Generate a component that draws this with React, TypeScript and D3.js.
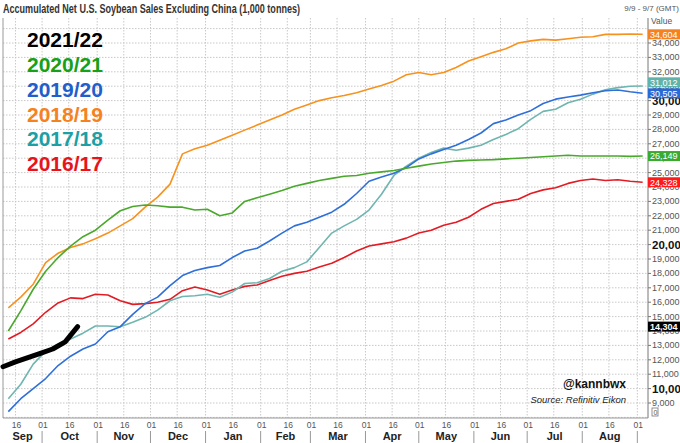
import React from "react";
import * as d3 from "d3";

const W = 680;
const H = 443;

// Weekly accumulated net sales (1,000 tonnes) — historical seasons start week of Sep 12
const s2018_19 = [15600, 16350, 17250, 18750, 19400, 19800, 20050, 20400, 20800, 21300, 21800, 22600, 23300, 24200, 26300, 26650, 26900, 27250, 27600, 27950, 28300, 28650, 29000, 29400, 29700, 30000, 30200, 30350, 30550, 30800, 31050, 31350, 31800, 31950, 31800, 31950, 32300, 32750, 33050, 33350, 33600, 34000, 34150, 34250, 34200, 34300, 34400, 34430, 34600, 34600, 34620, 34604];
const s2020_21 = [14000, 15400, 16900, 18150, 19100, 19900, 20550, 21000, 21700, 22350, 22650, 22750, 22700, 22600, 22600, 22400, 22450, 22000, 22200, 23000, 23250, 23500, 23750, 24050, 24250, 24450, 24600, 24750, 24800, 24950, 25050, 25150, 25300, 25450, 25600, 25700, 25800, 25850, 25870, 25900, 25950, 26000, 26050, 26100, 26150, 26200, 26150, 26150, 26150, 26150, 26130, 26149];
const s2019_20 = [8400, 9300, 10000, 10700, 11600, 12250, 12750, 13100, 13950, 14300, 15150, 15900, 16350, 17150, 17850, 18200, 18400, 18550, 19100, 19550, 19750, 20250, 20800, 21300, 21550, 21900, 22250, 22800, 23550, 24400, 24700, 24950, 25350, 25950, 26300, 26600, 26900, 27300, 27750, 28400, 28650, 29000, 29300, 29800, 30100, 30250, 30380, 30550, 30680, 30740, 30610, 30505];
const s2017_18 = [9300, 10300, 11700, 12600, 13100, 13450, 13850, 14350, 14350, 14300, 14600, 14950, 15450, 16100, 16400, 16450, 16550, 16350, 16700, 17300, 17350, 17650, 18150, 18400, 18800, 19800, 20800, 21300, 21750, 22400, 23500, 24800, 25450, 26000, 26400, 26700, 26550, 26700, 26900, 27300, 27650, 28050, 28700, 29250, 29400, 29850, 30100, 30450, 30750, 30900, 31000, 31012];
const s2016_17 = [13450, 13900, 14500, 15300, 15950, 16300, 16250, 16550, 16500, 16100, 15850, 15900, 16000, 16200, 16800, 17050, 16850, 16550, 16850, 17100, 17200, 17500, 17800, 18000, 18150, 18450, 18700, 19100, 19550, 19900, 20050, 20200, 20450, 20800, 21000, 21350, 21550, 21900, 22450, 22850, 23000, 23150, 23550, 23800, 23950, 24250, 24450, 24550, 24450, 24500, 24400, 24328];
// Current season starts week of Sep 9
const s2021_22 = [11520, 11850, 12150, 12450, 12750, 13250, 14304];

const seasons = ["2021/22", "2020/21", "2019/20", "2018/19", "2017/18", "2016/17"];
const legendColors = ["#000000", "#18a018", "#1f5fcc", "#f5821f", "#1ba0a6", "#e8141c"];
const lineColors = ["#000000", "#4aa82c", "#2f6fd8", "#f7921e", "#6fb5b0", "#e31b23"];
const badgeColors = ["#000000", "#3aaa2f", "#2a6ad6", "#f5821f", "#5fb3aa", "#ff1a1a"];
const yTicks = d3.range(9000, 35000, 1000);
const gridValues = d3.range(8000, 36000, 1000);

const seriesData = [s2021_22, s2020_21, s2019_20, s2018_19, s2017_18, s2016_17];

export default function App() {
  const domStart = new Date(2021, 8, 9);
  const domEnd = new Date(2022, 8, 7);
  const left = 3, right = 648, top = 18, bottom = 418;
  const x = d3.scaleTime().domain([domStart, domEnd]).range([left, right]);
  const y = d3.scaleLinear().domain([34000, 9000]).range([43, 403]);

  const histStart = new Date(2021, 8, 12);
  const curStart = new Date(2021, 8, 9);
  const dateFor = (si: number, i: number) =>
    d3.timeDay.offset(si === 0 ? curStart : histStart, 7 * i);

  const line = (si: number) =>
    d3.line<number>()
      .x((_, i) => x(dateFor(si, i)))
      .y((v) => y(v))(seriesData[si]) || "";

  const dayTicks = d3.timeDay.range(domStart, d3.timeDay.offset(domEnd, 1)).filter((d) => d.getDate() === 1 || d.getDate() === 16);
  const monthStarts = d3.timeMonth.range(domStart, d3.timeDay.offset(domEnd, 1));
  const months = d3.timeMonth.range(new Date(2021, 8, 1), new Date(2022, 8, 1));
  const fmtDay = d3.timeFormat("%d");
  const fmtMonth = d3.timeFormat("%b");
  const fmtNum = d3.format(",");

  // badges: resolve overlaps from lowest value upward
  const bh = 10;
  const order = d3.range(seriesData.length).sort((a, b) => {
    const va = seriesData[a][seriesData[a].length - 1];
    const vb = seriesData[b][seriesData[b].length - 1];
    return va - vb;
  });
  const badgeY: number[] = [];
  let prev = Infinity;
  order.forEach((si) => {
    const v = seriesData[si][seriesData[si].length - 1];
    let cy = y(v);
    if (cy > prev - bh - 1) cy = prev - bh - 1;
    badgeY[si] = cy;
    prev = cy;
  });

  const font = "'Liberation Sans', Arial, Helvetica, sans-serif";
  const legendY = [47, 71.5, 96.5, 121.5, 146, 171];

  return (
    <svg width={W} height={H} style={{ position: "absolute", left: 0, top: 0, background: "#fff" }} fontFamily={font}>
      <rect x={0} y={0} width={W} height={H} fill="#fff" />
      {/* title */}
      <text x={3} y={13} fontSize={12.5} fontWeight="bold" fill="#333" textLength={297} lengthAdjust="spacingAndGlyphs">
        Accumulated Net U.S. Soybean Sales Excluding China (1,000 tonnes)
      </text>
      <text x={679} y={11} fontSize={8} fill="#555" textAnchor="end">9/9 - 9/7 (GMT)</text>
      <text x={651} y={24} fontSize={8.5} fill="#555">Value</text>

      {/* grid */}
      <g>
        {gridValues.map((v) => (
          y(v) >= top && y(v) <= bottom ? (
            <line key={"h" + v} x1={left} x2={right} y1={y(v)} y2={y(v)} stroke="#c8c8c8" strokeWidth={1} strokeDasharray="1.5,1.5" />
          ) : null
        ))}
        {dayTicks.map((d) => (
          <line key={"v" + d.getTime()} x1={x(d)} x2={x(d)} y1={top} y2={bottom} stroke="#c8c8c8" strokeWidth={1} strokeDasharray="1.5,1.5" />
        ))}
      </g>

      {/* frame */}
      <line x1={left} x2={left} y1={top} y2={bottom} stroke="#999" />
      <line x1={left} x2={right} y1={bottom} y2={bottom} stroke="#999" />
      <line x1={right} x2={right} y1={top} y2={bottom} stroke="#777" />

      {/* series lines (draw historical first, current last) */}
      {[5, 4, 3, 2, 1].map((si) => (
        <path key={"l" + si} d={line(si)} fill="none" stroke={lineColors[si]} strokeWidth={1.6} strokeLinejoin="round" />
      ))}
      <path d={line(0)} fill="none" stroke={lineColors[0]} strokeWidth={5} strokeLinejoin="round" strokeLinecap="round" />

      {/* legend */}
      {seasons.map((s, i) => (
        <text key={s} x={27} y={legendY[i]} fontSize={21} fontWeight="bold" fill={legendColors[i]}>{s}</text>
      ))}

      {/* right axis */}
      {yTicks.map((v) => {
        const major = v % 10000 === 0;
        return (
          <g key={"t" + v}>
            <line x1={right} x2={right + 3} y1={y(v)} y2={y(v)} stroke="#777" />
            <text x={right + 4} y={y(v) + (major ? 4 : 3)} fontSize={major ? 11.5 : 9} fontWeight={major ? "bold" : "normal"} fill={major ? "#111" : "#555"}>
              {fmtNum(v)}
            </text>
          </g>
        );
      })}
      <rect x={652} y={408} width={6} height={8} fill="#fff" stroke="#777" strokeWidth={0.8} />
      <text x={653.5} y={415} fontSize={7} fill="#555">0</text>

      {/* value badges */}
      {seriesData.map((data, si) => {
        const v = data[data.length - 1];
        const cy = badgeY[si];
        return (
          <g key={"b" + si}>
            <rect x={right} y={cy - bh / 2} width={W - right} height={bh} fill={badgeColors[si]} />
            <text x={right + 2} y={cy + 3.3} fontSize={9} fontWeight={si === 0 ? "bold" : "normal"} fill="#fff">{fmtNum(v)}</text>
          </g>
        );
      })}

      {/* x axis */}
      {dayTicks.map((d) => (
        <text key={"xl" + d.getTime()} x={x(d) + 1} y={428} fontSize={8.5} fill="#555" textAnchor="middle">{fmtDay(d)}</text>
      ))}
      {monthStarts.map((d) => (
        <line key={"ms" + d.getTime()} x1={x(d)} x2={x(d)} y1={431} y2={443} stroke="#999" />
      ))}
      {months.map((m) => {
        const a = Math.max(x(m), left);
        const b = Math.min(x(d3.timeMonth.offset(m, 1)), right);
        return (
          <text key={"m" + m.getTime()} x={(a + b) / 2} y={440} fontSize={11} fontWeight="bold" fill="#222" textAnchor="middle">{fmtMonth(m)}</text>
        );
      })}

      {/* annotations */}
      <text x={626} y={388} fontSize={12} fontWeight="bold" fill="#111" textAnchor="end">@kannbwx</text>
      <text x={626} y={403} fontSize={9.5} fontStyle="italic" fill="#222" textAnchor="end">Source: Refinitiv Eikon</text>
    </svg>
  );
}
